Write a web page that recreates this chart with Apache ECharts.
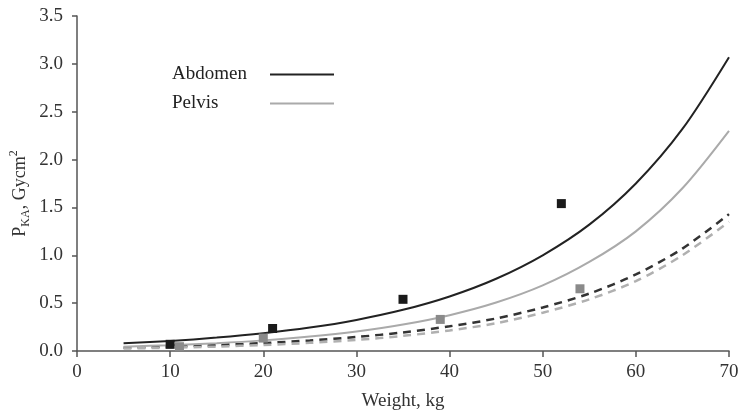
<!DOCTYPE html>
<html>
<head>
<meta charset="utf-8">
<script src="https://cdn.jsdelivr.net/npm/echarts@6/dist/echarts.min.js"></script>
<style>
  html, body { margin: 0; padding: 0; background: #fff; }
  #chart { width: 739px; height: 412px; }
</style>
</head>
<body>
<div id="chart"></div>
<script>
// Measured doses (squares)
const abdomenPoints = [[10, 0.07], [21, 0.235], [35, 0.54], [52, 1.54]];
const pelvisPoints = [[11, 0.045], [20, 0.135], [39, 0.33], [54, 0.65]];

// Fitted curves sampled along weight
const curveWeights = [5, 10, 15, 20, 25, 30, 35, 40, 45, 50, 55, 60, 65, 70];
const abdomenFit = [0.08, 0.105, 0.14, 0.185, 0.245, 0.325, 0.43, 0.57, 0.755, 1.0, 1.32, 1.75, 2.32, 3.07];
const pelvisFit = [0.045, 0.061, 0.082, 0.111, 0.151, 0.204, 0.276, 0.374, 0.506, 0.685, 0.93, 1.25, 1.70, 2.30];
const abdomenDashed = [0.035, 0.047, 0.062, 0.083, 0.110, 0.146, 0.194, 0.258, 0.34, 0.455, 0.60, 0.80, 1.07, 1.43];
const pelvisDashed = [0.025, 0.034, 0.046, 0.063, 0.085, 0.116, 0.158, 0.215, 0.29, 0.40, 0.54, 0.73, 1.0, 1.35];

const serif = "'Liberation Serif', 'Times New Roman', serif";
const pair = (xs, ys) => xs.map((x, i) => [x, ys[i]]);

const curve = (name, ys, color, width, dash, z) => ({
  name, type: 'line', smooth: 0.3, showSymbol: false,
  data: pair(curveWeights, ys),
  itemStyle: { color },
  lineStyle: dash ? { color, width, type: dash } : { color, width },
  z
});

const chart = echarts.init(document.getElementById('chart'));
chart.setOption({
  animation: false,
  backgroundColor: '#fff',
  grid: { left: 77, right: 10, top: 16, bottom: 61, containLabel: false, outerBoundsMode: 'none' },
  legend: {
    data: ['Abdomen', 'Pelvis'],
    orient: 'vertical',
    left: 167,
    top: 60,
    align: 'right',
    icon: 'path://M0,0L64,0L64,2L0,2Z',
    itemWidth: 64,
    itemHeight: 2,
    itemGap: 10,
    selectedMode: false,
    formatter: name => '{t|' + name + '}',
    textStyle: {
      fontFamily: serif, fontSize: 19, color: '#222',
      rich: { t: { fontFamily: serif, fontSize: 19, color: '#222', width: 93, align: 'left', lineHeight: 20 } }
    }
  },
  xAxis: {
    type: 'value',
    min: 0, max: 70, interval: 10,
    name: 'Weight, kg',
    nameLocation: 'middle',
    nameGap: 41,
    nameMoveOverlap: false,
    nameTextStyle: { fontFamily: serif, fontSize: 19, color: '#333' },
    axisLine: { lineStyle: { color: '#555', width: 1.5 } },
    axisTick: { show: true, length: 6, lineStyle: { color: '#555', width: 1.5 } },
    axisLabel: { fontFamily: serif, fontSize: 19, color: '#333', margin: 12 },
    splitLine: { show: false }
  },
  yAxis: {
    type: 'value',
    min: 0, max: 3.5, interval: 0.5,
    name: '{p|P}{sub|KA}{p|, Gycm}{sup|2}',
    nameLocation: 'middle',
    nameGap: 45,
    nameMoveOverlap: false,
    nameRotate: 90,
    nameTextStyle: {
      fontFamily: serif, color: '#333', padding: [0, 20, 0, 0],
      rich: {
        p: { fontFamily: serif, fontSize: 18, lineHeight: 24, color: '#333' },
        sub: { fontFamily: serif, fontSize: 12, lineHeight: 12, verticalAlign: 'bottom', color: '#333' },
        sup: { fontFamily: serif, fontSize: 12, lineHeight: 12, verticalAlign: 'top', color: '#333' }
      }
    },
    axisLine: { show: true, lineStyle: { color: '#555', width: 1.5 } },
    axisTick: { show: true, length: 5, lineStyle: { color: '#555', width: 1.5 } },
    axisLabel: { fontFamily: serif, fontSize: 19, color: '#333', margin: 14, formatter: v => v.toFixed(1) },
    splitLine: { show: false }
  },
  series: [
    curve('Abdomen', abdomenFit, '#222', 2, null, 3),
    curve('Pelvis', pelvisFit, '#aaa', 2, null, 3),
    curve('Abdomen dashed', abdomenDashed, '#333', 2.5, [8, 6], 2),
    curve('Pelvis dashed', pelvisDashed, '#b0b0b0', 2.5, [8, 6], 2),
    {
      name: 'Abdomen measured', type: 'scatter', symbol: 'rect', symbolSize: 9,
      data: abdomenPoints, itemStyle: { color: '#1a1a1a', opacity: 1 }, z: 5
    },
    {
      name: 'Pelvis measured', type: 'scatter', symbol: 'rect', symbolSize: 9,
      data: pelvisPoints, itemStyle: { color: '#8a8a8a', opacity: 1 }, z: 5
    }
  ]
});
</script>
</body>
</html>
